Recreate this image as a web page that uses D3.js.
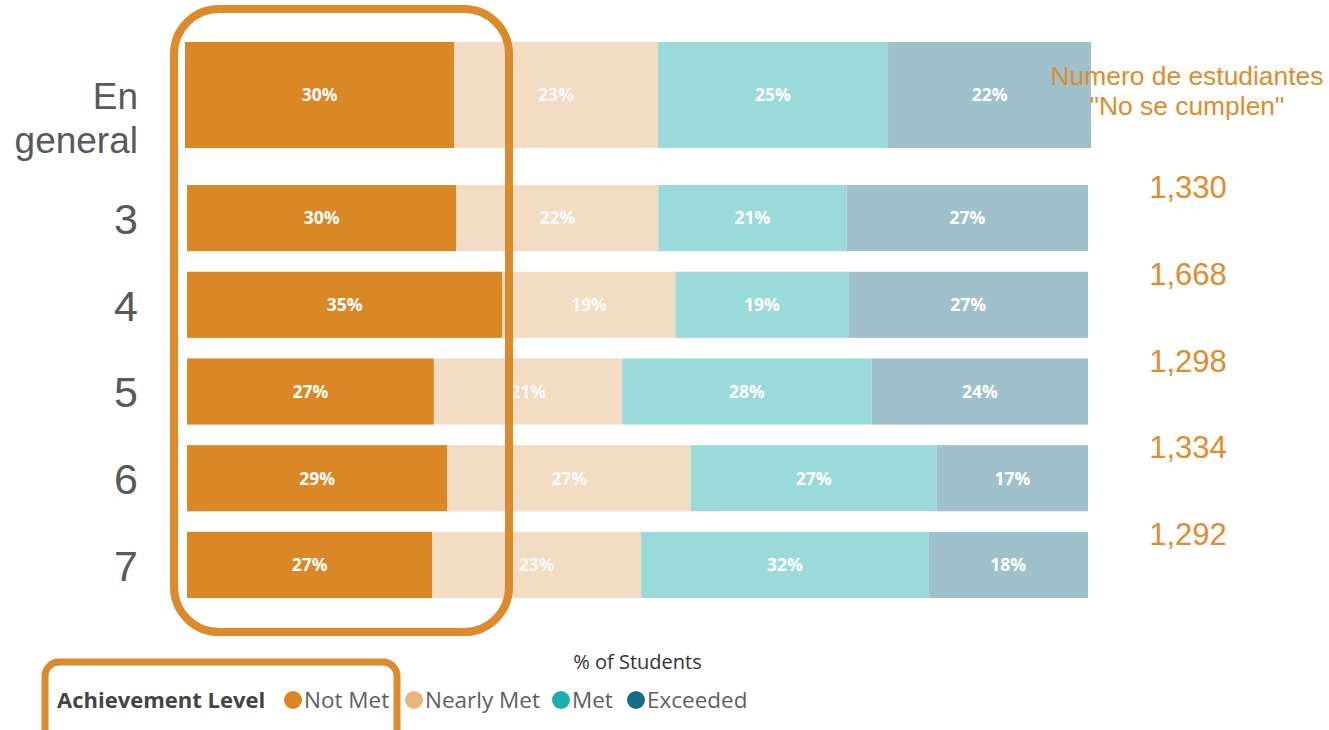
<!DOCTYPE html>
<html>
<head>
<meta charset="utf-8">
<title>Achievement Level by grade</title>
<script src="https://cdn.jsdelivr.net/npm/d3@7"></script>
<style>
	body { margin: 0; background: #fff; }
	#chart { display: block; }
	.catLabel { font-family: "Liberation Sans", Arial, sans-serif; fill: #595959; text-anchor: end; }
	.segLabel { font-family: "Open Sans", sans-serif; font-weight: 700; font-size: 17.5px; fill: #fff; text-anchor: middle; }
	.countLabel { font-family: "Liberation Sans", Arial, sans-serif; fill: #e08c2c; text-anchor: middle; }
	.legendText { font-family: "Open Sans", sans-serif; font-size: 22.5px; fill: #5f5f5f; }
</style>
</head>
<body>
<svg id="chart" width="1329" height="730"></svg>
<script>

// data (percent of students)
var grades = ['En general', '3', '4', '5', '6', '7'];
var levels = ['Not Met', 'Nearly Met', 'Met', 'Exceeded'];
var notMet    = [29.7, 29.9, 35.0, 27.4, 28.9, 27.2];
var nearlyMet = [22.5, 22.4, 19.2, 20.9, 27.0, 23.2];
var met       = [25.4, 20.9, 19.2, 27.7, 27.3, 31.9];
var exceeded  = [22.4, 26.8, 26.6, 24.0, 16.8, 17.7];
var notMetCounts = [1330, 1668, 1298, 1334, 1292];   // grades 3..7

var barColors = ['#da8825', '#f2ddc4', '#9adbda', '#9ec1cb'];
var legendColors = ['#da8628', '#e8b67c', '#1aafa8', '#176d87'];
var orange = '#dc8a2a';

var svg = d3.select('#chart');

var table = grades.map(function(g, i) {
	return {grade: g, 'Not Met': notMet[i], 'Nearly Met': nearlyMet[i], 'Met': met[i], 'Exceeded': exceeded[i]};
});
var series = d3.stack().keys(levels)(table);

// the overall bar is a bigger chart on its own, grades sit below it
var xTop = d3.scaleLinear().domain([0, 100]).range([185, 1091]);
var xRows = d3.scaleLinear().domain([0, 100]).range([187, 1088]);
var yTop = d3.scaleBand().domain([grades[0]]).range([42, 148]);
var yRows = d3.scaleBand().domain(grades.slice(1)).range([185, 598]).paddingInner(0.237);

function xFor(g) { return g === grades[0] ? xTop : xRows; }
function yFor(g) { return g === grades[0] ? yTop : yRows; }

var layers = svg.selectAll('.layer')
	.data(series)
	.enter()
	.append('g')
	.classed('layer', true)
	.attr('fill', function(d, i) { return barColors[i]; });

layers.selectAll('rect')
	.data(function(d) { return d; })
	.enter()
	.append('rect')
	.attr('x', function(d) { return xFor(d.data.grade)(d[0]); })
	.attr('width', function(d) { var x = xFor(d.data.grade); return x(d[1]) - x(d[0]); })
	.attr('y', function(d) { return yFor(d.data.grade)(d.data.grade); })
	.attr('height', function(d) { return yFor(d.data.grade).bandwidth(); });

layers.selectAll('.segLabel')
	.data(function(d) { return d; })
	.enter()
	.append('text')
	.classed('segLabel', true)
	.attr('opacity', function() { return d3.select(this.parentNode).datum().key === 'Nearly Met' ? 0.85 : 1; })
	.attr('x', function(d) { var x = xFor(d.data.grade); return (x(d[0]) + x(d[1])) / 2; })
	.attr('y', function(d) { var y = yFor(d.data.grade); return y(d.data.grade) + y.bandwidth() / 2; })
	.attr('dy', '0.36em')
	.text(function(d) { return Math.round(d[1] - d[0]) + '%'; });

// category labels on the left
var topLabel = svg.append('text')
	.classed('catLabel', true)
	.style('font-size', '37px')
	.attr('x', 138)
	.attr('y', 109);
topLabel.append('tspan').attr('x', 138).text('En');
topLabel.append('tspan').attr('x', 138).attr('dy', 44).text('general');

svg.selectAll('.gradeLabel')
	.data(grades.slice(1))
	.enter()
	.append('text')
	.classed('catLabel', true)
	.style('font-size', '43px')
	.attr('x', 138)
	.attr('y', function(d) { return yRows(d) + yRows.bandwidth() / 2; })
	.attr('dy', '0.37em')
	.text(function(d) { return d; });

// right column: count of "Not Met" students
var head = svg.append('text')
	.classed('countLabel', true)
	.style('font-size', '26.4px');
head.append('tspan').attr('x', 1187).attr('y', 85).text('Numero de estudiantes');
head.append('tspan').attr('x', 1187).attr('y', 115).text('"No se cumplen"');

svg.selectAll('.count')
	.data(notMetCounts)
	.enter()
	.append('text')
	.classed('countLabel', true)
	.style('font-size', '31px')
	.attr('x', 1188)
	.attr('y', function(d, i) { var g = grades[i + 1]; return yRows(g) + yRows.bandwidth() / 2 - 31; })
	.attr('dy', '0.36em')
	.text(function(d) { return d3.format(',')(d); });

// axis title
svg.append('text')
	.attr('x', (xRows.range()[0] + xRows.range()[1]) / 2)
	.attr('y', 669)
	.attr('text-anchor', 'middle')
	.style('font-family', '"Open Sans", sans-serif')
	.style('font-size', '20px')
	.style('fill', '#333')
	.text('% of Students');

// legend
svg.append('text')
	.attr('x', 57)
	.attr('y', 708)
	.style('font-family', '"Open Sans", sans-serif')
	.style('font-weight', 700)
	.style('font-size', '22px')
	.style('fill', '#444')
	.text('Achievement Level');

var legendX = [293, 414, 561, 636];
var legendItems = svg.selectAll('.legendItem')
	.data(levels)
	.enter()
	.append('g')
	.classed('legendItem', true)
	.attr('transform', function(d, i) { return 'translate(' + legendX[i] + ',700)'; });

legendItems.append('circle')
	.attr('r', 9)
	.attr('fill', function(d, i) { return legendColors[i]; });

legendItems.append('text')
	.classed('legendText', true)
	.attr('x', 11)
	.attr('y', 8)
	.text(function(d) { return d; });

// hand drawn highlight boxes
svg.append('rect')
	.attr('x', 174).attr('y', 9)
	.attr('width', 335).attr('height', 623)
	.attr('rx', 45).attr('ry', 45)
	.attr('fill', 'none')
	.attr('stroke', orange)
	.attr('stroke-width', 8);

svg.append('rect')
	.attr('x', 45).attr('y', 662)
	.attr('width', 352).attr('height', 90)
	.attr('rx', 14).attr('ry', 14)
	.attr('fill', 'none')
	.attr('stroke', orange)
	.attr('stroke-width', 7);

</script>
</body>
</html>
